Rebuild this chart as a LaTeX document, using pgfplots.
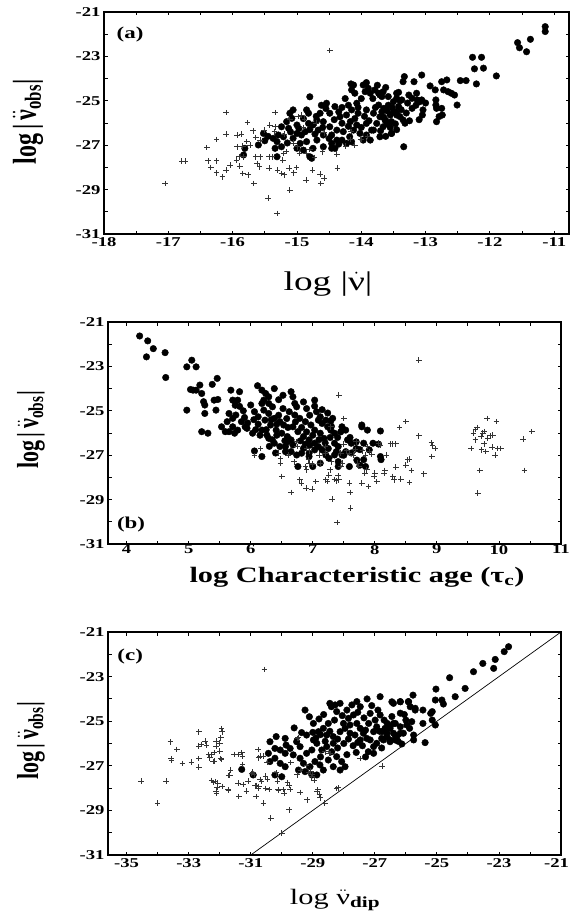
\documentclass[border=0pt]{standalone}
\usepackage{fontspec}
\setmainfont{Liberation Serif}[FakeStretch=1.38]
\newfontfamily\plainserif{Liberation Serif}
\usepackage{graphicx}
\usepackage{pgfplots}
\pgfplotsset{compat=1.18}

\pgfplotsset{
  panel/.style={
    scale only axis, anchor=south west,
    axis line style={line width=1.8pt},
    tick style={line width=0.9pt, black},
    major tick length=3.5pt, minor tick length=3.5pt,
    tick align=inside,
    ymin=-31, ymax=-21,
    ytick={-31,-29,...,-21},
    yticklabels={-31,-29,-27,-25,-23,-21},
    minor y tick num=1, minor x tick num=1,
    tick label style={font=\fontsize{13.5}{14}\selectfont\bfseries},
  },
  dot/.style={only marks, mark=*, mark size=3.3pt, black},
  cross/.style={only marks, mark=+, mark size=2.8pt, black!80, mark options={line width=0.9pt}},
}
\newcommand{\ylab}[1]{\scalebox{1}[1.38]{\plainserif\fontsize{#1}{#1}\selectfont\bfseries log\,|\,$\ddot{\mbox{ν}}$\textsubscript{obs}|}}

\begin{document}
\begin{tikzpicture}
\useasboundingbox (0pt,0pt) rectangle (570pt,-920pt);

% ---------- (a) ----------
\begin{axis}[panel, at={(104pt,-234pt)}, width=465pt, height=222pt,
  xmin=-18, xmax=-10.77,
  xtick={-18,-17,...,-11},
  xticklabels={-18,-17,-16,-15,-14,-13,-12,-11},
]
\addplot[dot] coordinates {
(-11.14,-21.66) (-11.14,-21.88) (-11.57,-22.38) (-11.54,-22.61) (-11.43,-22.79) (-11.37,-22.23)
(-12.27,-23.04) (-12.13,-23.04) (-12.24,-23.56) (-12.1,-23.53) (-12.21,-24.24) (-11.9,-23.88) (-12.46,-24.09) (-12.37,-24.09)
(-12.75,-24.14) (-12.67,-24.06) (-12.72,-24.51) (-12.65,-24.59) (-12.6,-24.66) (-12.55,-24.74) (-12.51,-25.19)
(-12.85,-24.51) (-12.84,-24.96) (-12.84,-25.19) (-12.83,-25.34) (-12.83,-25.94) (-12.79,-25.71) (-12.75,-25.34) (-12.74,-25.64) (-12.93,-24.33)
(-13.33,-23.91) (-13.35,-24.14) (-13.18,-24.14) (-13.06,-23.84)
(-13.42,-24.62) (-13.45,-24.89) (-13.37,-24.96) (-13.26,-24.74) (-13.21,-24.89) (-13.14,-24.66) (-13.13,-24.96) (-13.09,-25.04) (-13.06,-24.96) (-13.21,-25.34) (-13.04,-25.41) (-13.05,-25.64)
(-13.5,-25.5) (-13.45,-25.64) (-13.4,-25.71) (-13.35,-25.86) (-13.32,-26.01) (-13.47,-26.04) (-13.53,-26.47) (-13.34,-27.07)
(-13.68,-25.5) (-13.65,-25.74) (-13.62,-25.89) (-13.6,-26.04) (-13.69,-24.66) (-13.68,-24.81) (-13.65,-25.34)
(-14.16,-24.24) (-13.92,-24.18) (-13.94,-24.59) (-14.1,-24.66) (-13.86,-24.66) (-13.71,-24.74) (-13.73,-25.19) (-13.45,-24.66)
(-14.07,-25.11) (-14.15,-25.41) (-14.23,-25.64) (-14.33,-25.72) (-14.3,-26.01) (-14.17,-25.94) (-14.05,-25.56) (-13.92,-25.41) (-13.81,-25.56) (-13.71,-25.72) (-13.63,-25.87) (-13.55,-25.64) (-13.47,-25.49)
(-13.92,-26.02) (-13.84,-26.32) (-13.71,-26.62) (-14.02,-26.47) (-13.86,-26.77) (-13.53,-26.47)
(-14.12,-24.29) (-14.15,-24.51) (-13.97,-24.29) (-13.89,-24.44) (-13.79,-24.51) (-13.73,-24.66) (-13.66,-24.59) (-13.58,-24.81) (-13.5,-25.04) (-13.42,-25.26) (-13.45,-25.56) (-13.53,-25.94) (-13.66,-26.17) (-13.76,-26.02) (-13.81,-26.32) (-13.92,-26.54) (-13.97,-26.77) (-14.07,-26.09) (-14.12,-26.32) (-14.18,-26.62) (-14.28,-26.39) (-14.3,-26.77) (-14.23,-26.92) (-14.38,-26.77) (-14.46,-27.14)
(-14.8,-24.82) (-14.41,-25.26) (-14.54,-25.11) (-14.49,-25.56) (-14.64,-25.56) (-14.69,-25.87) (-14.59,-25.94) (-14.49,-26.17) (-14.38,-26.32) (-14.46,-26.54) (-14.59,-26.54) (-14.67,-26.32) (-14.75,-26.09) (-14.82,-26.02) (-14.85,-25.41) (-14.82,-25.56) (-14.87,-26.39) (-14.93,-26.54) (-15.0,-26.47) (-15.0,-26.09) (-15.08,-25.79) (-15.11,-25.56) (-15.16,-25.94) (-15.13,-26.24) (-15.06,-26.69) (-14.95,-26.92) (-14.85,-26.84) (-14.75,-27.14) (-14.8,-27.52) (-14.69,-26.77) (-14.59,-27.07) (-14.46,-26.92) (-14.41,-27.14)
(-15.24,-26.17) (-15.29,-26.54) (-15.21,-26.62) (-15.31,-26.84) (-15.37,-26.69) (-15.34,-27.14) (-15.24,-27.07) (-15.31,-27.52) (-15.52,-26.47) (-15.6,-26.99) (-15.81,-27.14) (-15.83,-27.44) (-15.06,-25.41) (-15.0,-27.14) (-14.9,-27.22) (-14.77,-27.59)
(-14.25,-24.9) (-14.2,-25.2) (-14.0,-24.9) (-14.05,-25.3) (-13.95,-25.7) (-13.88,-25.9) (-13.78,-25.3) (-13.82,-24.9) (-13.75,-24.3) (-13.62,-24.4) (-13.58,-25.2) (-13.6,-25.45) (-13.52,-25.3) (-13.4,-25.0) (-13.38,-25.4) (-13.28,-25.1) (-13.3,-25.55) (-13.25,-25.9) (-13.15,-25.2) (-13.1,-25.85) (-13.0,-25.1) (-13.55,-26.2) (-13.7,-26.35) (-13.62,-26.6) (-13.45,-26.3) (-14.0,-26.2) (-14.1,-25.8) (-14.2,-26.15) (-14.35,-25.5) (-14.42,-25.85) (-14.55,-25.35) (-14.6,-26.2) (-14.7,-25.7) (-14.72,-26.5) (-14.9,-25.8) (-14.97,-26.25) (-15.1,-26.4) (-14.8,-26.3) (-14.5,-26.7) (-14.35,-26.95) (-14.15,-26.85) (-15.15,-26.9) (-15.45,-26.6) (-15.5,-26.8) (-14.62,-25.2) (-14.3,-25.3)
};
\addplot[cross] coordinates {
(-17.05,-28.72) (-16.79,-27.71) (-16.74,-27.71) (-16.4,-27.11) (-16.38,-27.7) (-16.34,-28.01) (-16.25,-27.7) (-16.25,-28.24) (-16.25,-26.74) (-16.16,-28.42) (-16.1,-25.53) (-16.1,-26.5) (-16.1,-28.12)
(-15.93,-26.54) (-15.86,-26.5) (-15.93,-27.07) (-15.9,-27.52) (-15.83,-27.52) (-15.89,-27.94) (-15.84,-28.27) (-15.77,-25.98) (-15.76,-28.34) (-15.78,-26.84) (-15.73,-26.99) (-15.68,-26.35) (-15.67,-28.72) (-15.64,-27.52) (-15.57,-27.52) (-15.62,-27.82) (-15.58,-27.97) (-15.51,-26.32) (-15.45,-29.39) (-15.42,-26.09) (-15.34,-26.17) (-15.43,-27.52) (-15.38,-27.52) (-15.43,-28.04) (-15.34,-25.53) (-15.31,-30.07) (-15.3,-28.12) (-15.24,-28.27) (-15.22,-27.67) (-15.2,-28.34) (-15.12,-28.04) (-15.11,-29.02) (-15.11,-25.86) (-15.05,-28.24) (-15.01,-28.01)
(-14.98,-25.71) (-14.88,-25.83) (-14.86,-28.57) (-14.85,-27.37) (-14.8,-27.19) (-14.76,-28.12) (-14.73,-27.55) (-14.64,-28.31) (-14.63,-28.72) (-14.58,-28.49) (-14.58,-26.44) (-14.38,-27.4) (-14.37,-28.04) (-14.24,-27.04) (-14.17,-26.74) (-14.16,-26.39) (-14.01,-26.72)
(-15.57,-26.77) (-15.64,-26.65) (-15.84,-27.04) (-15.94,-27.67) (-16.04,-27.89) (-15.21,-27.37) (-15.16,-27.29) (-15.0,-27.07) (-14.96,-27.37) (-14.93,-25.64) (-14.49,-22.73) (-14.0,-26.75) (-13.9,-26.6) (-14.1,-27.0)
(-15.35,-26.4) (-15.2,-26.5) (-14.9,-26.2) (-14.7,-26.0) (-15.05,-26.9) (-14.6,-27.3)
};
\node[font=\fontsize{16.6}{17}\selectfont\bfseries] at (rel axis cs:0.056,0.90) {(a)};
\end{axis}

% ---------- (b) ----------
\begin{axis}[panel, at={(108pt,-544pt)}, width=453pt, height=222pt,
  xmin=3.7, xmax=11,
  xtick={4,...,11},
  xticklabels={4,5,6,7,8,9,10,11},
  xticklabel style={yshift=2.5pt},
]
\addplot[dot] coordinates {
(4.21,-21.63) (4.34,-21.85) (4.32,-22.57) (4.43,-22.2) (4.62,-22.38) (4.63,-23.5)
(4.97,-23.02) (5.05,-22.72) (5.12,-23.02) (4.97,-24.97) (5.03,-24.04) (5.07,-24.07) (5.12,-24.07) (5.18,-23.84) (5.21,-24.22) (5.24,-24.59) (5.26,-24.74) (5.26,-25.12) (5.21,-25.94) (5.31,-26.01) (5.38,-23.81) (5.46,-23.54) (5.41,-24.52) (5.47,-24.49) (5.44,-24.97) (5.53,-25.72) (5.59,-25.94)
(5.68,-24.07) (5.82,-24.14) (5.79,-24.52) (5.71,-24.52) (5.65,-25.12) (5.71,-25.34) (5.76,-25.19) (5.62,-25.49) (5.71,-25.72) (5.79,-25.87) (5.85,-25.49) (5.91,-25.72) (5.74,-26.01) (5.65,-25.94) (5.94,-25.79) (6.03,-26.01) (5.82,-24.8) (5.88,-25.0) (5.75,-24.75)
(6.0,-24.74) (6.06,-25.04) (6.12,-25.27) (6.11,-23.87) (6.18,-24.07) (6.24,-24.22) (6.29,-24.37) (6.21,-24.52) (6.29,-24.67) (6.35,-24.82) (6.18,-24.67) (6.21,-24.97) (6.29,-25.12) (6.38,-25.34) (6.47,-25.49) (6.53,-25.64) (6.23,-25.42) (6.32,-25.64) (6.41,-25.87) (6.5,-26.01) (6.59,-26.16) (6.65,-26.31) (6.18,-25.87) (6.26,-26.09) (6.35,-26.31) (6.29,-26.24) (6.38,-26.46) (6.47,-26.61) (6.56,-26.84) (6.06,-26.81) (6.18,-27.06) (6.12,-25.6) (6.05,-25.4)
(6.65,-24.14) (6.68,-24.37) (6.71,-24.67) (6.74,-24.82) (6.62,-25.04) (6.71,-25.19) (6.79,-25.34) (6.88,-25.49) (6.97,-25.64) (7.03,-25.87) (6.68,-25.72) (6.76,-25.94) (6.85,-26.16) (6.94,-26.31) (7.03,-26.46) (6.56,-26.61) (6.65,-26.84) (6.74,-26.99) (6.82,-26.91) (6.59,-26.4) (6.68,-26.54) (6.85,-26.69) (6.94,-26.91) (7.03,-26.76) (6.76,-27.51) (6.94,-27.06) (7.0,-27.51) (7.12,-27.36) (6.88,-26.5)
(7.03,-24.52) (7.03,-24.79) (7.06,-25.04) (7.09,-25.42) (7.15,-25.57) (7.24,-25.72) (7.29,-25.87) (7.35,-26.01) (7.12,-26.01) (7.18,-26.24) (7.12,-25.27) (7.21,-25.42) (7.29,-25.46) (7.24,-25.1) (7.32,-25.34) (7.09,-26.61) (7.15,-26.76) (7.21,-26.99) (7.26,-27.14) (7.35,-26.99) (7.41,-27.29) (7.35,-26.46) (7.41,-26.61) (7.38,-26.84) (7.47,-26.99) (7.53,-26.84) (7.47,-25.72) (7.53,-25.87) (7.56,-26.31) (7.62,-26.46) (7.76,-26.75) (7.82,-26.46) (7.6,-26.2) (7.7,-26.4) (7.59,-27.51) (7.41,-27.51) (7.71,-27.22) (7.5,-27.0)
(7.79,-25.64) (7.79,-25.72) (8.09,-25.91) (7.88,-25.87) (7.91,-26.76) (7.97,-26.46) (8.06,-26.5) (8.09,-27.06) (8.1,-27.2) (7.76,-27.45) (7.85,-27.51) (7.82,-27.2)
(5.9,-25.3) (5.95,-25.55) (6.08,-25.85) (6.15,-26.1) (6.25,-25.85) (6.33,-25.4) (6.42,-25.6) (6.45,-25.2) (6.52,-24.9) (6.58,-25.35) (6.6,-25.75) (6.72,-25.5) (6.82,-25.75) (6.9,-25.95) (6.8,-26.35) (6.95,-26.55) (7.0,-26.1) (7.1,-26.3) (7.2,-26.45) (7.28,-26.2) (7.25,-26.7) (7.4,-26.2) (7.45,-25.95) (7.3,-25.7) (6.42,-26.1) (6.55,-26.35) (6.45,-24.5) (6.38,-24.0) (6.52,-24.3) (6.9,-24.9) (6.95,-25.2) (6.85,-24.6) (7.15,-24.95) (7.62,-26.9) (7.7,-26.7) (6.3,-26.6) (6.4,-26.9)
};
\addplot[cross] coordinates {
(6.16,-26.69) (6.06,-27.02) (6.48,-27.14) (6.48,-27.36) (6.5,-27.96) (6.65,-28.68) (6.74,-26.39) (6.75,-26.61) (6.79,-28.11) (6.82,-28.26) (6.88,-27.51) (6.9,-27.66) (6.93,-27.21) (6.94,-27.36) (6.89,-28.49) (6.99,-28.53) (7.05,-28.19) (7.12,-27.36) (7.21,-28.11) (7.24,-28.19) (7.26,-27.89) (7.28,-27.66) (7.29,-25.72) (7.31,-28.98) (7.35,-28.1) (7.38,-28.15) (7.41,-27.93) (7.42,-28.11) (7.42,-24.29) (7.45,-27.5) (7.48,-27.36) (7.5,-25.34) (7.59,-26.91) (7.59,-28.26) (7.6,-28.68) (7.61,-29.38) (7.39,-30.03) (7.68,-26.76) (7.72,-27.36) (7.74,-27.51) (7.79,-28.26) (7.84,-27.81) (7.87,-27.66) (7.9,-28.41) (7.88,-26.61) (7.91,-26.84) (7.99,-27.96) (8.0,-27.81) (8.03,-28.19) (8.06,-26.46) (8.09,-26.54) (8.15,-27.81) (8.16,-27.69) (8.19,-26.99) (8.25,-26.49) (8.29,-26.49) (8.34,-26.49) (8.29,-27.96) (8.31,-28.11) (8.34,-27.54) (8.4,-25.75) (8.42,-28.07) (8.5,-25.49) (8.5,-27.44) (8.53,-27.21) (8.55,-27.18) (8.56,-28.23) (8.59,-27.69) (8.71,-22.72) (8.71,-26.13) (8.79,-27.84) (8.91,-26.43) (8.93,-26.58) (8.92,-27.06) (8.97,-26.69)
(9.55,-26.69) (9.59,-26.01) (9.62,-25.84) (9.65,-25.75) (9.62,-26.31) (9.66,-28.71) (9.69,-27.69) (9.71,-26.16) (9.74,-26.01) (9.76,-25.94) (9.72,-26.76) (9.76,-26.49) (9.81,-25.34) (9.79,-26.84) (9.82,-26.24) (9.86,-26.13) (9.9,-26.09) (9.89,-26.64) (9.96,-25.49) (9.94,-26.99) (9.98,-26.69) (10.03,-26.69) (10.39,-26.28) (10.41,-27.69) (10.53,-25.94)
(6.95,-26.8) (7.1,-27.0) (7.0,-27.4) (7.2,-26.9) (7.3,-27.3) (7.45,-26.9) (7.55,-26.8) (7.65,-27.0) (7.8,-26.8) (7.85,-27.0) (7.95,-26.95) (7.2,-26.6) (7.5,-26.5) (7.7,-26.4) (6.9,-26.7) (6.7,-27.3) (6.6,-27.0) (6.45,-26.9)
};
\node[font=\fontsize{16.6}{17}\selectfont\bfseries] at (rel axis cs:0.051,0.086) {(b)};
\end{axis}

% ---------- (c) ----------
\begin{axis}[panel, at={(108pt,-855pt)}, width=453pt, height=223pt,
  xmin=-35.6, xmax=-21,
  xtick={-35,-33,...,-21},
  xticklabels={-35,-33,-31,-29,-27,-25,-23,\makebox[16pt][r]{-21}},
]
\addplot[black, line width=0.7pt, no marks] coordinates {(-31,-31) (-21,-21)};
\addplot[dot] coordinates {
(-22.69,-21.66) (-22.83,-21.88) (-23.12,-22.23) (-23.17,-22.63) (-23.52,-22.41) (-23.82,-22.78) (-24.59,-23.05) (-24.09,-23.53) (-24.41,-23.9) (-25.03,-23.56) (-25.05,-24.05) (-24.84,-24.05) (-24.79,-24.23) (-25.77,-23.83) (-25.45,-24.5) (-25.2,-24.65) (-25.15,-24.57) (-25.45,-25.1) (-25.15,-24.95) (-25.05,-25.17) (-25.38,-25.96) (-25.75,-25.62) (-25.75,-25.84) (-26.13,-26.02) (-25.88,-25.32) (-25.7,-24.5) (-25.91,-24.13) (-26.18,-24.13) (-26.45,-24.13) (-26.18,-24.64) (-26.05,-24.7) (-26.45,-24.79) (-26.34,-25.1) (-26.83,-23.9)
(-26.4,-25.54) (-26.29,-25.69) (-26.61,-25.69) (-26.72,-25.84) (-26.51,-25.92) (-26.35,-25.84) (-26.08,-25.54) (-25.97,-25.17) (-25.81,-25.02) (-26.18,-25.25) (-26.51,-25.25) (-26.67,-25.32) (-26.77,-25.47)
(-30.38,-25.92) (-30.18,-25.69) (-29.89,-25.77) (-29.86,-26.07) (-30.22,-26.22) (-30.05,-26.29) (-29.89,-26.44) (-29.73,-26.22) (-30.43,-26.44) (-30.38,-26.81) (-30.22,-26.66) (-30.05,-26.89) (-29.89,-27.04) (-30.22,-27.41) (-30.0,-27.49) (-31.29,-27.16) (-30.92,-27.41)
(-29.36,-25.51) (-29.2,-25.62) (-29.52,-25.92) (-29.41,-26.14) (-29.63,-26.51) (-29.41,-26.66) (-29.2,-26.44) (-29.03,-26.29) (-29.3,-26.89) (-29.09,-27.04) (-28.93,-26.81) (-28.77,-26.96) (-29.46,-27.19) (-29.25,-27.26) (-29.03,-27.41) (-28.87,-27.41) (-28.66,-27.19)
(-29.11,-24.8) (-28.98,-25.1) (-28.82,-25.47) (-28.66,-25.32) (-28.55,-25.62) (-28.34,-25.69) (-28.12,-25.47) (-27.96,-25.32) (-28.34,-25.99)
(-28.55,-26.14) (-28.39,-26.37) (-28.23,-26.59) (-28.07,-26.81) (-27.96,-27.04) (-28.12,-27.19) (-28.34,-27.04) (-28.5,-26.74) (-28.87,-25.99) (-28.71,-26.29) (-28.98,-25.84)
(-28.28,-24.27) (-28.12,-24.2) (-28.23,-24.57) (-28.45,-24.2) (-28.4,-24.35)
(-27.74,-24.27) (-27.58,-24.12) (-27.47,-24.35) (-27.69,-24.72) (-27.85,-24.87) (-28.01,-25.1) (-27.8,-25.17) (-27.58,-25.1) (-27.47,-25.32) (-27.37,-25.54) (-27.26,-25.77) (-27.47,-25.84) (-27.64,-25.62) (-27.8,-25.54)
(-27.15,-24.65) (-26.99,-24.95) (-26.83,-24.72) (-26.94,-25.25) (-27.04,-25.47) (-27.15,-25.84) (-27.04,-26.14) (-27.21,-26.37) (-26.94,-25.99) (-26.78,-25.77) (-26.61,-25.54) (-26.51,-25.32) (-26.4,-25.1) (-26.51,-25.84) (-26.35,-25.62) (-26.18,-25.54)
(-26.4,-24.2) (-26.18,-24.12) (-25.92,-24.12) (-25.86,-24.35) (-25.7,-24.42) (-27.04,-26.44) (-26.78,-26.2) (-27.3,-26.6)
(-29.0,-25.5) (-28.9,-25.75) (-28.75,-25.6) (-28.6,-25.9) (-28.45,-25.45) (-28.2,-25.8) (-28.0,-26.0) (-27.85,-25.8) (-27.7,-26.1) (-27.55,-25.95) (-27.4,-26.1) (-27.3,-25.4) (-27.2,-25.1) (-27.35,-24.85) (-27.55,-24.6) (-27.9,-24.5) (-28.05,-24.75) (-28.3,-24.95) (-28.5,-25.1) (-28.65,-24.7) (-28.8,-24.9) (-27.1,-24.3) (-26.9,-24.5) (-26.7,-24.95) (-26.6,-25.1) (-26.85,-25.45) (-27.6,-26.4) (-27.9,-26.5) (-28.2,-26.2) (-28.75,-26.6) (-29.6,-25.3) (-29.25,-24.5) (-27.25,-24.0) (-26.0,-24.95) (-26.25,-25.9)
};
\addplot[cross] coordinates {
(-34.53,-27.69) (-34.0,-28.67) (-33.73,-27.69) (-33.59,-25.93) (-33.56,-26.68) (-33.38,-26.26) (-33.2,-26.89) (-32.91,-26.83) (-32.67,-25.48) (-32.67,-26.11) (-32.67,-26.68) (-32.67,-27.06) (-32.59,-26.04) (-32.47,-25.89) (-32.35,-26.49) (-32.32,-26.64) (-32.26,-27.66) (-32.2,-27.74) (-32.18,-26.79) (-32.18,-26.41) (-32.12,-25.89) (-32.12,-26.11) (-32.12,-28.14) (-32.06,-27.77) (-32.0,-26.34) (-32.0,-25.99) (-31.96,-25.74) (-31.94,-25.33) (-31.92,-25.48) (-31.96,-26.68) (-31.92,-27.92) (-31.73,-28.07) (-31.71,-27.44) (-31.65,-27.2) (-31.53,-26.49) (-31.41,-26.49) (-31.41,-27.77) (-31.38,-28.37) (-31.29,-26.41) (-31.26,-26.94) (-31.24,-27.84) (-31.14,-28.14) (-31.08,-27.69)
(-30.94,-27.29) (-30.88,-27.39) (-30.82,-27.89) (-30.74,-27.92) (-30.76,-26.26) (-30.74,-26.64) (-30.59,-26.56) (-30.59,-28.67) (-30.56,-22.68) (-30.53,-27.47) (-30.47,-26.86) (-30.35,-29.35) (-30.41,-28.07) (-30.18,-27.32) (-30.14,-27.69) (-30.12,-28.07) (-30.0,-30.02) (-29.96,-28.07) (-29.92,-28.22) (-29.82,-27.74) (-29.76,-27.89) (-29.73,-28.07) (-29.76,-28.97) (-29.71,-26.86) (-29.47,-25.74) (-29.4,-28.19) (-29.18,-28.52) (-29.14,-27.29) (-29.06,-27.24) (-29.02,-27.39) (-28.86,-28.14) (-28.79,-28.29) (-28.76,-28.44) (-28.61,-28.67) (-28.47,-26.44) (-28.18,-27.99) (-27.47,-26.68) (-26.76,-27.02)
(-33.55,-26.74) (-33.71,-27.71) (-32.42,-26.07) (-32.21,-26.81) (-32.26,-26.51) (-31.94,-26.71) (-32.15,-27.71) (-32.08,-27.97) (-32.1,-28.23) (-31.72,-28.09) (-31.67,-27.41) (-31.26,-26.56) (-30.97,-27.34) (-30.86,-27.9) (-30.83,-28.38) (-30.7,-26.56) (-30.7,-27.61) (-30.65,-27.71) (-30.75,-28.01) (-30.51,-28.01) (-30.46,-27.61) (-30.11,-28.11) (-29.5,-25.77) (-29.41,-28.2) (-29.03,-27.49) (-28.96,-27.64) (-28.84,-28.08) (-28.6,-26.37) (-28.44,-26.44) (-28.23,-28.01) (-29.4,-27.2) (-29.5,-27.4) (-29.2,-27.0)
};
\node[font=\fontsize{16.6}{17}\selectfont\bfseries] at (rel axis cs:0.049,0.892) {(c)};
\end{axis}

% ---------- axis titles ----------
\node[font=\fontsize{27}{27}\selectfont] at (328pt,-284pt) {log |$\dot{\mbox{ν}}$|};
\node[font=\fontsize{22}{22}\selectfont\bfseries] at (357pt,-577pt) {log Characteristic age (τ\textsubscript{c})};
\node[font=\fontsize{22}{22}\selectfont] at (335pt,-900pt) {log $\ddot{\mbox{ν}}$\textsubscript{\bfseries dip}};
\node[rotate=90] at (28pt,-122pt) {\ylab{24}};
\node[rotate=90] at (31pt,-430pt) {\ylab{22}};
\node[rotate=90] at (31pt,-741pt) {\ylab{22}};
\end{tikzpicture}
\end{document}
